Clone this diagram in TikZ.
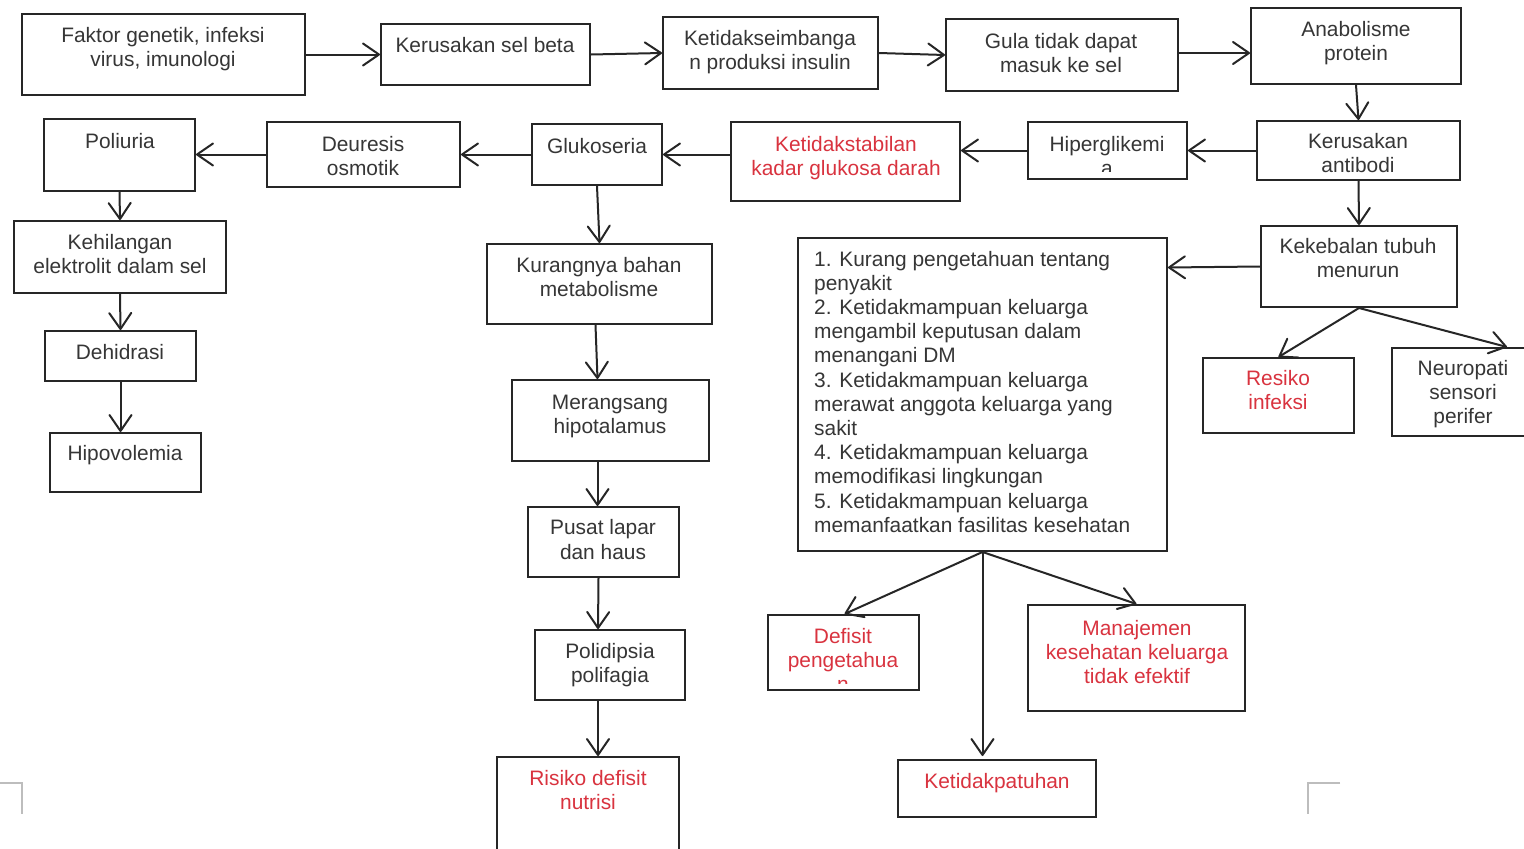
\documentclass[tikz,border=0pt]{standalone}
\usepackage{fontspec}
\setmainfont{Liberation Sans}
\usetikzlibrary{arrows.meta,fit,calc}
\definecolor{linec}{HTML}{262626}
\definecolor{textc}{HTML}{363636}
\definecolor{redc}{HTML}{D9333F}
\definecolor{markc}{HTML}{BDBDBD}
\begin{document}
\begin{tikzpicture}[x=1pt,y=-1pt,
  bx/.style={draw=linec, line width=2pt, inner sep=0pt, fill=none},
  tx/.style={font=\fontsize{20.9}{24.2}\selectfont, text=textc, inner sep=0pt, align=center, anchor=base},
  rd/.style={tx, text=redc},
  arr/.style={draw=linec, line width=2pt, line join=round,
    -{Straight Barb[length=16pt,width=22pt,line width=2pt,round]}}]
\useasboundingbox[fill=white] (0,0) rectangle (1524,849);

% boxes
\node[bx, fit={(22,14) (305,95)}] (A) {};
\node[bx, fit={(381,24) (590,85)}] (B) {};
\node[bx, fit={(663,17) (878,89)}] (C) {};
\node[bx, fit={(946,19) (1178,91)}] (D) {};
\node[bx, fit={(1251,8) (1461,84)}] (E) {};
\node[bx, fit={(44,119) (195,191)}] (pol) {};
\node[bx, fit={(267,122) (460,187)}] (deu) {};
\node[bx, fit={(532,124) (662,185)}] (glu) {};
\node[bx, fit={(731,122) (960,201)}] (ket) {};
\node[bx, fit={(1028,122) (1187,179)}] (hip) {};
\node[bx, fit={(1257,121) (1460,180)}] (ka) {};
\node[bx, fit={(14,221) (226,293)}] (keh) {};
\node[bx, fit={(45,331) (196,381)}] (deh) {};
\node[bx, fit={(50,433) (201,492)}] (hipo) {};
\node[bx, fit={(487,244) (712,324)}] (kur) {};
\node[bx, fit={(512,380) (709,461)}] (mer) {};
\node[bx, fit={(528,507) (679,577)}] (pus) {};
\node[bx, fit={(535,630) (685,700)}] (poli) {};
\node[bx, fit={(497,757) (679,870)}] (ris) {};
\node[bx, fit={(1261,226) (1457,307)}] (kek) {};
\node[bx, fit={(798,238) (1167,551)}] (big) {};
\node[bx, fit={(1203,358) (1354,433)}] (res) {};
\node[bx, fit={(1392,348) (1540,436)}] (neu) {};
\node[bx, fit={(768,615) (919,690)}] (def) {};
\node[bx, fit={(898,760) (1096,817)}] (ketp) {};
\node[bx, fit={(1028,605) (1245,711)}] (man) {};

% texts (anchor base = baseline of the last line)
\node[tx] (tA) at (163,66.2) {Faktor genetik, infeksi\\virus, imunologi};
\node[tx] (tB) at (485,52) {Kerusakan sel beta};
\node[tx] (tC) at (770,69.2) {Ketidakseimbanga\\n produksi insulin};
\node[tx] (tD) at (1061,72.2) {Gula tidak dapat\\masuk ke sel};
\node[tx] (tE) at (1356,60.2) {Anabolisme\\protein};
\node[tx] (tpol) at (120,148) {Poliuria};
\node[tx] (tdeu) at (363,175.2) {Deuresis\\osmotik};
\node[tx] (tglu) at (597,153) {Glukoseria};
\node[rd] (tket) at (846,175.2) {Ketidakstabilan\\kadar glukosa darah};
\node[tx] (thip) at (1107,151) {Hiperglikemi};
\begin{scope}
\clip (1028,158) rectangle (1187,171);
\node[tx] (thipa) at (1107,175) {a};
\end{scope}
\node[tx] (tka) at (1358,172.2) {Kerusakan\\antibodi};
\node[tx] (tkeh) at (120,273.2) {Kehilangan\\elektrolit dalam sel};
\node[tx] (tdeh) at (120,359) {Dehidrasi};
\node[tx] (thipo) at (125,460) {Hipovolemia};
\node[tx] (tkur) at (599,296.2) {Kurangnya bahan\\metabolisme};
\node[tx] (tmer) at (610,433.2) {Merangsang\\hipotalamus};
\node[tx] (tpus) at (603,559) {Pusat lapar\\dan haus};
\node[tx] (tpoli) at (610,682.2) {Polidipsia\\polifagia};
\node[rd] (tris) at (588,809.2) {Risiko defisit\\nutrisi};
\node[tx] (tkek) at (1358,277.2) {Kekebalan tubuh\\menurun};
\node[tx, align=left, anchor=base west] (tbig) at (814,532.2) {1. Kurang pengetahuan tentang\\penyakit\\2. Ketidakmampuan keluarga\\mengambil keputusan dalam\\menangani DM\\3. Ketidakmampuan keluarga\\merawat anggota keluarga yang\\sakit\\4. Ketidakmampuan keluarga\\memodifikasi lingkungan\\5. Ketidakmampuan keluarga\\memanfaatkan fasilitas kesehatan};
\node[rd] (tres) at (1278,409.2) {Resiko\\infeksi};
\node[tx] (tneu) at (1463,423.4) {Neuropati\\sensori\\perifer};
\node[rd] (tdef) at (843,667.2) {Defisit\\pengetahua};
\begin{scope}
\clip (768,672) rectangle (919,683);
\node[rd] (tdefn) at (843,691.4) {n};
\end{scope}
\node[rd] (tketp) at (997,788) {Ketidakpatuhan};
\node[rd] (tman) at (1137,683.4) {Manajemen\\kesehatan keluarga\\tidak efektif};

% connectors
\draw[arr] (A.east) -- (B.west);
\draw[arr] (B.east) -- (C.west);
\draw[arr] (C.east) -- (D.west);
\draw[arr] ([yshift=2pt]D.east) -- ([yshift=2pt]E.west |- D.east);
\draw[arr] (E.south) -- (ka.north);
\draw[arr] (ka.west) -- (hip.east);
\draw[arr] (hip.west) -- (ket.east |- hip.west);
\draw[arr] (ket.west |- glu.east) -- (glu.east);
\draw[arr] (glu.west) -- (deu.east);
\draw[arr] (deu.west) -- (pol.east |- deu.west);
\draw[arr] (pol.south) -- (keh.north);
\draw[arr] (keh.south) -- (deh.north);
\draw[arr] (deh.south) -- (hipo.north -| deh.south);
\draw[arr] (glu.south) -- (kur.north);
\draw[arr] ([xshift=-4pt]kur.south) -- ([xshift=-13pt]mer.north);
\draw[arr] ([xshift=-13pt]mer.south) -- ([xshift=-6pt]pus.north);
\draw[arr] ([xshift=-5pt]pus.south) -- ([xshift=-12pt]poli.north);
\draw[arr] ([xshift=-12pt]poli.south) -- ([xshift=10pt]ris.north);
\draw[arr] (ka.south) -- (kek.north);
\draw[arr] (kek.west) -- ([yshift=-1pt]big.east |- kek.west);
\draw[arr] (kek.south) -- (res.north);
\draw[arr] (kek.south) -- ([xshift=41pt]neu.north);
\draw[arr] (big.south) -- ([xshift=1pt]def.north);
\draw[arr] (big.south) -- ([yshift=3pt]big.south |- ketp.north);
\draw[arr] (big.south) -- (man.north);

% page corner marks
\draw[markc, line width=1.5pt] (0,783) -- (22,783) -- (22,814);
\draw[markc, line width=1.5pt] (1340,783) -- (1308,783) -- (1308,814);
\end{tikzpicture}
\end{document}
